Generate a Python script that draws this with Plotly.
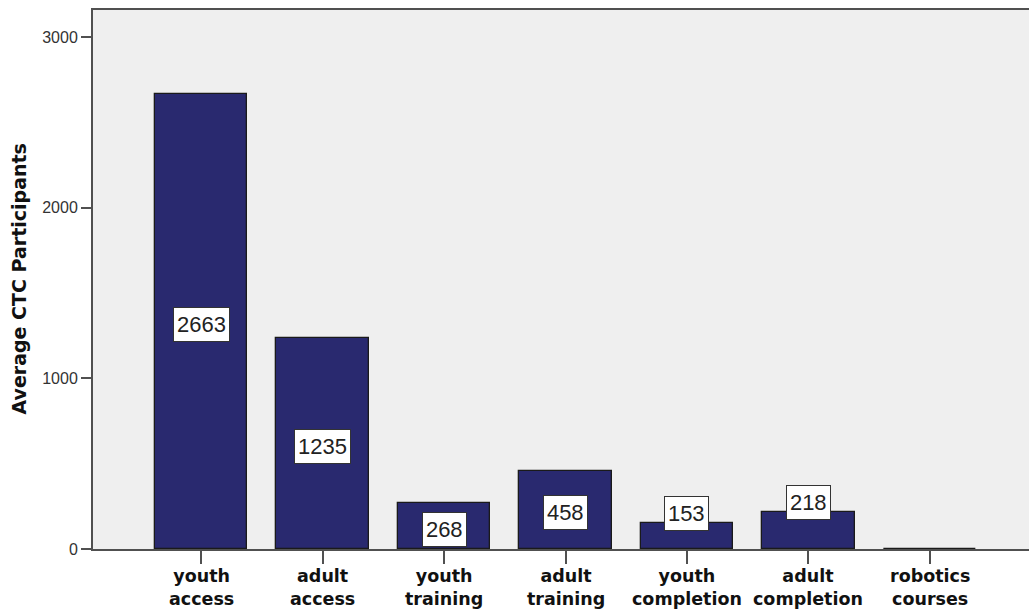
import plotly.graph_objects as go

# Average participants per program category
categories = ["youth<br>access", "adult<br>access", "youth<br>training", "adult<br>training",
              "youth<br>completion", "adult<br>completion", "robotics<br>courses"]
values = [2663, 1235, 268, 458, 153, 218, 2]
labels = ["2663", "1235", "268", "458", "153", "218", None]

y_ticks = [0, 1000, 2000, 3000]

W, H = 1029, 611
M_L, M_R, M_T, M_B = 93, 0, 10, 62
plot_h = H - M_T - M_B
y_max = 3158
px_per_unit = plot_h / y_max

BAR_FILL = "#29296f"
BAR_EDGE = "#1a1a1a"
FRAME = "#505050"

x_idx = list(range(len(categories)))

fig = go.Figure(
    go.Bar(
        x=x_idx,
        y=values,
        width=0.765,
        marker=dict(color=BAR_FILL, line=dict(color=BAR_EDGE, width=1.3)),
        hoverinfo="skip",
    )
)

# value boxes: centred inside tall bars, raised over the top of short ones
box_px = 33
for i, (v, lab) in enumerate(zip(values, labels)):
    if lab is None:
        continue
    if v * px_per_unit >= box_px + 8:
        y_lab = v / 2 - 3 / px_per_unit
    else:
        y_lab = v + 9.5 / px_per_unit
    fig.add_annotation(
        x=i, y=y_lab, xref="x", yref="y",
        text=lab, showarrow=False,
        font=dict(family="Liberation Sans, Arial", size=22, color="#222222"),
        bgcolor="white", bordercolor="#333333", borderwidth=1, borderpad=0,
        width=12.5 * len(lab) + 5, height=box_px,
        xanchor="center", yanchor="middle",
    )

# category labels under the axis
for i, cat in enumerate(categories):
    fig.add_annotation(
        x=i, y=0, xref="x", yref="paper",
        text=cat, showarrow=False,
        font=dict(family="DejaVu Sans", size=17.5, color="#111111", weight="bold"),
        xanchor="center", yanchor="top", yshift=-16, borderpad=0,
    )

# y-axis title
fig.add_annotation(
    xref="paper", yref="paper",
    x=-(M_L - 18) / (W - M_L - M_R), y=0.5,
    text="Average CTC Participants", textangle=-90, showarrow=False,
    font=dict(family="DejaVu Sans", size=19, color="#111111", weight="bold"),
    xanchor="center", yanchor="middle",
)

fig.update_layout(
    width=W, height=H,
    margin=dict(l=M_L, r=M_R, t=M_T, b=M_B, pad=0),
    paper_bgcolor="white",
    plot_bgcolor="#efefef",
    showlegend=False,
    bargap=0,
)

fig.update_xaxes(
    range=[-0.889, 6.815],
    tickmode="array", tickvals=x_idx, ticktext=[""] * len(categories),
    ticks="outside", ticklen=13, tickwidth=1.5, tickcolor=FRAME,
    showline=True, linecolor=FRAME, linewidth=2, mirror=True,
    showgrid=False, zeroline=False,
)

fig.update_yaxes(
    range=[0, y_max],
    tickmode="array", tickvals=y_ticks, ticktext=[str(t) for t in y_ticks],
    ticks="outside", ticklen=10, tickwidth=1.5, tickcolor=FRAME,
    showline=True, linecolor=FRAME, linewidth=2,
    showgrid=False, zeroline=False,
    tickfont=dict(family="Liberation Sans, Arial", size=16, color="#333333"),
)

fig.write_html("out.html")
